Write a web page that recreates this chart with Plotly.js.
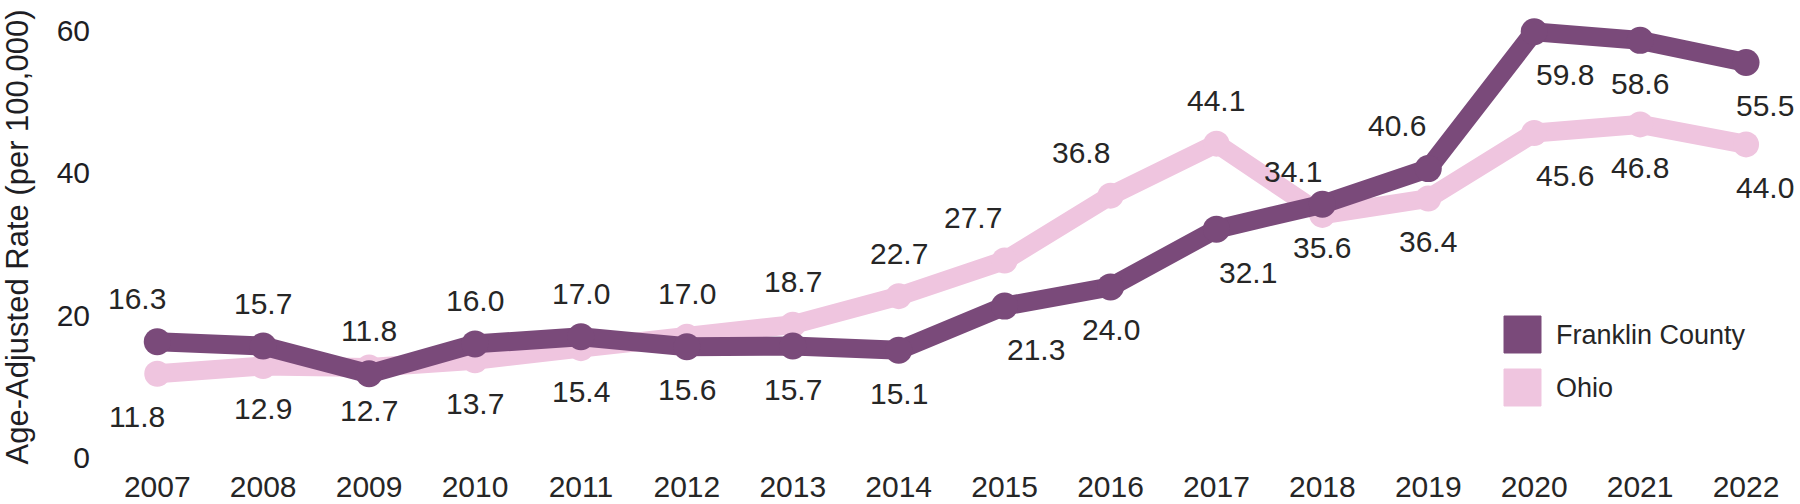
<!DOCTYPE html>
<html>
<head>
<meta charset="utf-8">
<script src="https://cdn.plot.ly/plotly-3.0.1.min.js"></script>
<style>
  html, body { margin: 0; padding: 0; background: #ffffff; }
  #chart { width: 1800px; height: 504px; }
</style>
</head>
<body>
<div id="chart"></div>
<script>
// ---- Data ----
const years = [2007, 2008, 2009, 2010, 2011, 2012, 2013, 2014, 2015, 2016, 2017, 2018, 2019, 2020, 2021, 2022];
const franklinCounty = [16.3, 15.7, 11.8, 16.0, 17.0, 15.6, 15.7, 15.1, 21.3, 24.0, 32.1, 35.6, 40.6, 59.8, 58.6, 55.5];
const ohio = [11.8, 12.9, 12.7, 13.7, 15.4, 17.0, 18.7, 22.7, 27.7, 36.8, 44.1, 34.1, 36.4, 45.6, 46.8, 44.0];
const seriesNames = ["Franklin County", "Ohio"];
const yTickValues = [0, 20, 40, 60];
const yAxisTitle = "Age-Adjusted Rate (per 100,000)";

// ---- Styling ----
const FONT = "Arial, 'Liberation Sans', sans-serif";
const colorFranklin = "#7a4a7a";
const colorOhio = "#efc5df";
const textColor = "#262626";

// label placement (1 = above the point, -1 = below) and horizontal nudges in px
const franklinSide  = [1, 1, 1, 1, 1, -1, -1, -1, -1, -1, -1, -1, 1, -1, -1, -1];
const franklinNudge = [-20, 0, 0, 0, 0, 0, 0, 0, 31, 0, 32, 0, -31, 31, 0, 19];
const ohioSide      = [-1, -1, -1, -1, -1, 1, 1, 1, 1, 1, 1, 1, -1, -1, -1, -1];
const ohioNudge     = [-20, 0, 0, 0, 0, 0, 0, 0, -32, -30, 0, -29, 0, 31, 0, 19];

const margin = { l: 99, r: 1, t: 9, b: 39 };
const W = 1800, H = 504;
const plotW = W - margin.l - margin.r, plotH = H - margin.t - margin.b;
const px2paperX = px => (px - margin.l) / plotW;
const px2paperY = py => 1 - (py - margin.t) / plotH;

const traces = [
  {
    x: years, y: ohio, name: seriesNames[1], type: "scatter", mode: "lines+markers",
    line: { color: colorOhio, width: 19 }, marker: { color: colorOhio, size: 26 },
    showlegend: false, hoverinfo: "skip"
  },
  {
    x: years, y: franklinCounty, name: seriesNames[0], type: "scatter", mode: "lines+markers",
    line: { color: colorFranklin, width: 19 }, marker: { color: colorFranklin, size: 27 },
    showlegend: false, hoverinfo: "skip"
  }
];

const annotations = [];
function addLabels(values, side, nudge) {
  values.forEach((v, i) => {
    annotations.push({
      x: years[i], y: v, xref: "x", yref: "y", text: v.toFixed(1), showarrow: false,
      xanchor: "center", yanchor: "middle", xshift: nudge[i], yshift: side[i] * 43,
      font: { family: FONT, size: 30, color: textColor }
    });
  });
}
addLabels(franklinCounty, franklinSide, franklinNudge);
addLabels(ohio, ohioSide, ohioNudge);

// legend (custom squares + text)
const legendColors = [colorFranklin, colorOhio];
const legendTops = [316, 369];
const shapes = [];
seriesNames.forEach((name, i) => {
  const top = legendTops[i];
  shapes.push({
    type: "rect", xref: "paper", yref: "paper",
    x0: px2paperX(1504), x1: px2paperX(1541), y0: px2paperY(top + 37), y1: px2paperY(top),
    fillcolor: legendColors[i], line: { color: legendColors[i], width: 1 }
  });
  annotations.push({
    xref: "paper", yref: "paper", x: px2paperX(1554), y: px2paperY(top + 19),
    xanchor: "left", yanchor: "middle", showarrow: false, text: name,
    font: { family: FONT, size: 27, color: textColor }
  });
});

const layout = {
  width: W, height: H, margin: margin,
  paper_bgcolor: "#ffffff", plot_bgcolor: "#ffffff",
  showlegend: false,
  xaxis: {
    range: [2006.45, 2022.5], tickvals: years, ticktext: years.map(String),
    showgrid: false, zeroline: false, showline: false, ticks: "",
    tickfont: { family: FONT, size: 30, color: textColor }, ticklabelstandoff: 1,
    fixedrange: true
  },
  yaxis: {
    range: [-1, 63], tickvals: yTickValues, showgrid: false, zeroline: false, showline: false, ticks: "",
    tickfont: { family: FONT, size: 30, color: "#1e1e24" }, ticklabelstandoff: 8,
    title: { text: yAxisTitle, font: { family: FONT, size: 31, color: "#1e1e24" }, standoff: 18 },
    automargin: false, fixedrange: true
  },
  annotations: annotations,
  shapes: shapes
};

Plotly.newPlot("chart", traces, layout, { staticPlot: true, displayModeBar: false });
</script>
</body>
</html>
